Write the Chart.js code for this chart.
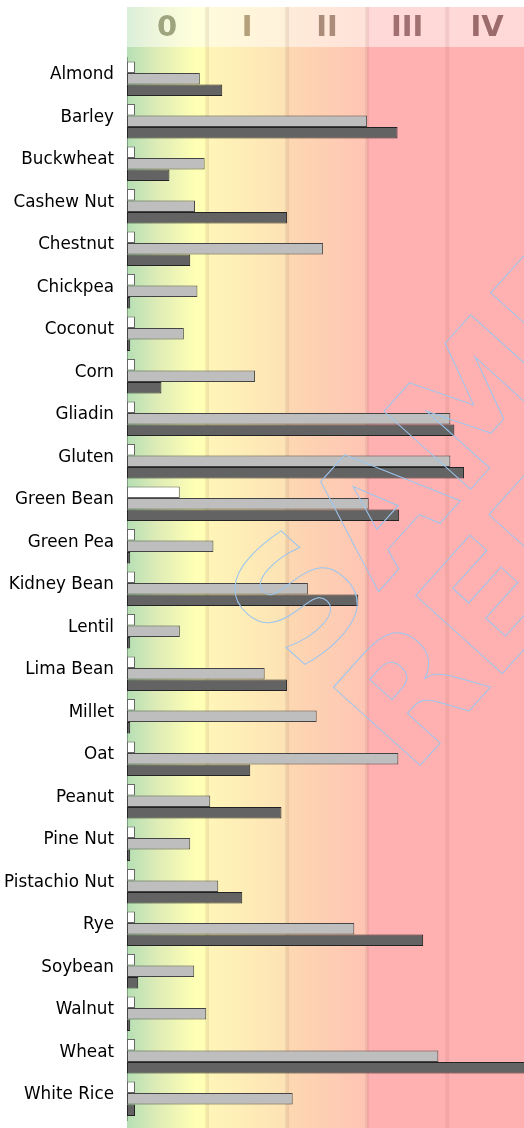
<!DOCTYPE html>
<html>
<head>
<meta charset="utf-8">
<script src="https://cdn.jsdelivr.net/npm/chart.js@4/dist/chart.umd.min.js"></script>
<style>
  html, body { margin: 0; padding: 0; background: #fff; }
  canvas { display: block; }
</style>
</head>
<body>
<canvas id="chart" width="524" height="1128"></canvas>
<script>
// Data
const categories = ['Almond', 'Barley', 'Buckwheat', 'Cashew Nut', 'Chestnut', 'Chickpea', 'Coconut', 'Corn',
  'Gliadin', 'Gluten', 'Green Bean', 'Green Pea', 'Kidney Bean', 'Lentil', 'Lima Bean', 'Millet', 'Oat',
  'Peanut', 'Pine Nut', 'Pistachio Nut', 'Rye', 'Soybean', 'Walnut', 'Wheat', 'White Rice'];
const classLabels = ['0', 'I', 'II', 'III', 'IV'];
const test1 = [0.1, 0.1, 0.1, 0.1, 0.1, 0.1, 0.1, 0.1, 0.1, 0.1, 0.66, 0.1, 0.1, 0.1, 0.1, 0.1, 0.1,
  0.1, 0.1, 0.1, 0.1, 0.1, 0.1, 0.1, 0.1];
const test2 = [0.91, 3.0, 0.97, 0.85, 2.45, 0.88, 0.71, 1.6, 4.04, 4.04, 3.02, 1.08, 2.26, 0.66, 1.72, 2.37, 3.39,
  1.04, 0.79, 1.14, 2.84, 0.84, 0.99, 3.89, 2.07];
const test3 = [1.19, 3.38, 0.53, 2.0, 0.79, 0.04, 0.04, 0.43, 4.09, 4.21, 3.40, 0.04, 2.89, 0.04, 2.0, 0.04, 1.54,
  1.93, 0.04, 1.44, 3.70, 0.14, 0.04, 5.0, 0.1];

const AREA_TOP = 57.5;
const classColors = ['#9ea47e', '#b4a07a', '#ab8b79', '#a17171', '#9c6b6b'];

// background bands behind the bars, with the class header on top
const bandsPlugin = {
  id: 'bands',
  beforeDraw(chart) {
    const { ctx, scales: { x } } = chart;
    const w = chart.width, h = chart.height;
    const x0 = x.getPixelForValue(0);
    const px = v => x.getPixelForValue(v);
    const span = px(x.max) - x0;
    const g = ctx.createLinearGradient(x0, 0, px(x.max), 0);
    const stop = (v, c) => g.addColorStop(Math.min(1, Math.max(0, (px(v) - x0) / span)), c);
    stop(0, '#b5dfb5');
    stop(0.35, '#dcebb6');
    stop(0.85, '#ffffb5');
    stop(0.999, '#ffffb5');
    stop(1.001, '#fff6b8');
    stop(1.999, '#fde2b5');
    stop(2.001, '#fdd8b2');
    stop(2.999, '#ffc4b4');
    stop(3.001, '#ffb1b1');
    stop(x.max, '#ffb0b0');
    ctx.save();
    ctx.fillStyle = g;
    ctx.fillRect(x0, 47, w - x0, h - 47);
    ctx.fillRect(x0, 7, w - x0, 40);
    ctx.fillStyle = 'rgba(255,255,255,0.5)';
    ctx.fillRect(x0, 7, w - x0, 40);
    ctx.fillStyle = 'rgba(150,100,70,0.12)';
    for (let i = 1; i < classLabels.length; i++) {
      ctx.fillRect(px(i) - 2, 7, 4, h - 7);
    }
    ctx.restore();
  }
};

// faint outlined watermark over everything
const watermarkPlugin = {
  id: 'watermark',
  afterDraw(chart) {
    const { ctx } = chart;
    ctx.save();
    ctx.strokeStyle = '#9cc6ee';
    ctx.lineWidth = 1;
    ctx.font = 'bold 160px "DejaVu Sans"';
    ctx.textBaseline = 'middle';
    ctx.textAlign = 'left';
    ctx.translate(270, 650);
    ctx.rotate(-48 * Math.PI / 180);
    ctx.strokeText('SAMPLE', 0, 0);
    ctx.strokeText('REPORT', 0, 147);
    ctx.restore();
  }
};

new Chart(document.getElementById('chart'), {
  type: 'bar',
  data: {
    labels: categories,
    datasets: [
      { label: 'Test 1', data: test1, backgroundColor: '#ffffff', borderColor: '#666666' },
      { label: 'Test 2', data: test2, backgroundColor: '#bebebe', borderColor: '#444444' },
      { label: 'Test 3', data: test3, backgroundColor: '#636363', borderColor: '#222222' }
    ]
  },
  options: {
    indexAxis: 'y',
    responsive: false,
    devicePixelRatio: 1,
    animation: false,
    layout: { padding: { top: 0, right: 0, bottom: 8, left: 0 } },
    datasets: {
      bar: { borderWidth: 1, borderSkipped: false, barPercentage: 1, categoryPercentage: 0.81 }
    },
    plugins: {
      legend: { display: false },
      tooltip: { enabled: false }
    },
    scales: {
      x: {
        position: 'top',
        min: 0,
        max: 4.96,
        grid: { display: false, drawTicks: false },
        border: { display: false },
        afterBuildTicks: s => { s.ticks = classLabels.map((l, i) => ({ value: i + 0.5 })); },
        afterFit: s => { s.height = AREA_TOP; s.paddingLeft = 0; s.paddingRight = 0; },
        ticks: {
          autoSkip: false,
          maxRotation: 0,
          padding: 12,
          callback: (v, i) => classLabels[i],
          color: c => classColors[c.index],
          font: { family: 'DejaVu Sans', size: 29, weight: 'bold' }
        }
      },
      y: {
        grid: { display: false, drawTicks: false },
        border: { display: true, color: 'rgba(0,0,0,0.3)', width: 1 },
        afterFit: s => { s.width = 127; s.paddingTop = 0; s.paddingBottom = 0; },
        ticks: {
          autoSkip: false,
          padding: 13,
          labelOffset: -4,
          color: '#000',
          font: { family: 'DejaVu Sans', size: 16.8 }
        }
      }
    }
  },
  plugins: [bandsPlugin, watermarkPlugin]
});
</script>
</body>
</html>
